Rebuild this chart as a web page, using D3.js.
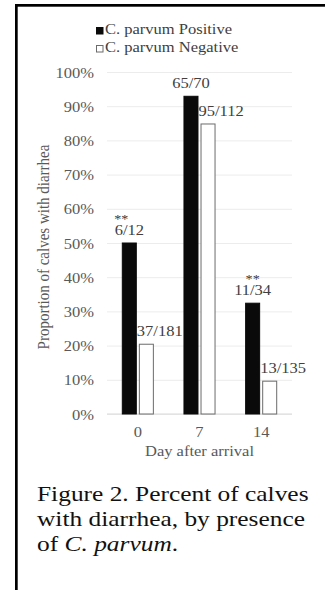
<!DOCTYPE html>
<html>
<head>
<meta charset="utf-8">
<script src="https://cdn.jsdelivr.net/npm/d3@7"></script>
<style>
  body { margin: 0; background: #fff; }
  svg { display: block; font-family: "Liberation Serif", "Times New Roman", serif; }
</style>
</head>
<body>
<svg width="325" height="590"></svg>
<script>
var days = ["0", "7", "14"];
var seriesNames = ["C. parvum Positive", "C. parvum Negative"];
var positive = [0.50, 0.929, 0.324];
var negative = [0.204, 0.848, 0.096];
var positiveLabels = ["6/12", "65/70", "11/34"];
var negativeLabels = ["37/181", "95/112", "13/135"];
var positiveMarks = ["**", "", "**"];
var yTicks = [0, 0.1, 0.2, 0.3, 0.4, 0.5, 0.6, 0.7, 0.8, 0.9, 1.0];

// the picture is stretched sideways, so the text is too
var sx = 1.18;

var svg = d3.select("svg");

// frame on the left and top
svg.append("rect").attr("x", 15).attr("y", 4).attr("width", 2.7).attr("height", 586).attr("fill", "#000");
svg.append("rect").attr("x", 15).attr("y", 4).attr("width", 310).attr("height", 2.7).attr("fill", "#000");

var plotLeft = 107, plotRight = 292, plotTop = 72, plotBottom = 414;

var xScale = d3.scaleBand().domain(days).range([plotLeft, plotRight]).paddingInner(0.48).paddingOuter(0.24);
var sScale = d3.scaleBand().domain([0, 1]).range([0, xScale.bandwidth()]).paddingInner(0.12);
var yScale = d3.scaleLinear().domain([0, 1]).range([plotBottom, plotTop]);

// y axis with gridlines
var yAxis = svg.append("g")
  .attr("transform", "translate(" + plotLeft + ",0)")
  .call(d3.axisLeft(yScale).tickValues(yTicks).tickSize(-(plotRight - plotLeft)).tickFormat(d3.format(".0%")));
yAxis.select(".domain").remove();
yAxis.selectAll(".tick line").attr("stroke", "#ececec").attr("stroke-width", 1);
yAxis.selectAll(".tick text")
  .attr("x", null).attr("dy", null)
  .attr("transform", "translate(-13,5) scale(" + sx + ",1)")
  .attr("text-anchor", "end")
  .attr("font-size", "14px")
  .attr("font-family", "Liberation Serif, serif")
  .attr("fill", "#595959");

// x axis
var xAxis = svg.append("g")
  .attr("transform", "translate(0," + plotBottom + ")")
  .call(d3.axisBottom(xScale).tickSize(0));
xAxis.select(".domain").attr("stroke", "#d9d9d9").attr("d", "M" + plotLeft + ",0H" + plotRight);
xAxis.selectAll(".tick text")
  .attr("y", null).attr("dy", null)
  .attr("transform", "translate(0,23) scale(" + sx + ",1)")
  .attr("font-size", "14px")
  .attr("font-family", "Liberation Serif, serif")
  .attr("fill", "#595959");

svg.append("text")
  .attr("transform", "translate(" + ((plotLeft + plotRight) / 2) + ",456) scale(" + sx + ",1)")
  .attr("text-anchor", "middle")
  .attr("font-size", "14px")
  .attr("fill", "#595959")
  .text("Day after arrival");

svg.append("text")
  .attr("transform", "translate(49," + ((plotTop + plotBottom) / 2 + 4) + ") scale(" + sx + ",1) rotate(-90)")
  .attr("text-anchor", "middle")
  .attr("font-size", "15px")
  .attr("fill", "#595959")
  .text("Proportion of calves with diarrhea");

// bars
var g = svg.append("g");
var series = [positive, negative];
series.forEach(function(vals, si) {
  g.selectAll(".bar" + si)
    .data(vals)
    .enter().append("rect")
    .attr("class", "bar" + si)
    .attr("x", function(d, i) { return xScale(days[i]) + sScale(si) + 0.5; })
    .attr("y", function(d) { return yScale(d); })
    .attr("width", sScale.bandwidth() - 1)
    .attr("height", function(d) { return plotBottom - yScale(d); })
    .attr("fill", si === 0 ? "#0a0a0a" : "#fff")
    .attr("stroke", si === 0 ? "#0a0a0a" : "#6b6b6b")
    .attr("stroke-width", 1);
});

// data labels
g.selectAll(".plab")
  .data(positive)
  .enter().append("text")
  .attr("transform", function(d, i) {
    return "translate(" + (xScale(days[i]) + sScale(0) + sScale.bandwidth() / 2) + "," + (yScale(d) - 8) + ") scale(" + sx + ",1)";
  })
  .attr("text-anchor", "middle")
  .attr("font-size", "14px")
  .attr("fill", "#404040")
  .text(function(d, i) { return positiveLabels[i]; });

// significance stars sit just above the label
g.selectAll(".pmark")
  .data(positive)
  .enter().append("text")
  .attr("transform", function(d, i) {
    return "translate(" + (xScale(days[i]) + sScale(0) + sScale.bandwidth() / 2 - (i === 0 ? 8 : 0)) + "," + (yScale(d) - 20) + ") scale(" + sx + ",1)";
  })
  .attr("text-anchor", "middle")
  .attr("font-size", "12px")
  .attr("fill", "#404040")
  .text(function(d, i) { return positiveMarks[i]; });

g.selectAll(".nlab")
  .data(negative)
  .enter().append("text")
  .attr("transform", function(d, i) {
    return "translate(" + (xScale(days[i]) + sScale(1) - 2) + "," + (yScale(d) - 8) + ") scale(" + sx + ",1)";
  })
  .attr("text-anchor", "start")
  .attr("font-size", "14px")
  .attr("fill", "#404040")
  .text(function(d, i) { return negativeLabels[i]; });

// legend
var legend = svg.append("g");
seriesNames.forEach(function(name, i) {
  var ly = 34 + i * 18;
  legend.append("rect")
    .attr("x", 96.5).attr("y", ly - 6.5)
    .attr("width", 6.5).attr("height", 6.5)
    .attr("fill", i === 0 ? "#0a0a0a" : "#fff")
    .attr("stroke", i === 0 ? "#0a0a0a" : "#6b6b6b");
  legend.append("text")
    .attr("transform", "translate(105," + ly + ") scale(" + sx + ",1)")
    .attr("font-size", "14px")
    .attr("fill", "#404040")
    .text(name);
});

// caption
var cap = svg.append("g").attr("font-size", "21px").attr("fill", "#111");
var capScale = " scale(1.21,1)";
cap.append("text").attr("transform", "translate(37,501)" + capScale).text("Figure 2. Percent of calves");
cap.append("text").attr("transform", "translate(37,526)" + capScale).text("with diarrhea, by presence");
var l3 = cap.append("text").attr("transform", "translate(37,551)" + capScale);
l3.append("tspan").text("of ");
l3.append("tspan").attr("font-style", "italic").text("C. parvum");
l3.append("tspan").text(".");
</script>
</body>
</html>
